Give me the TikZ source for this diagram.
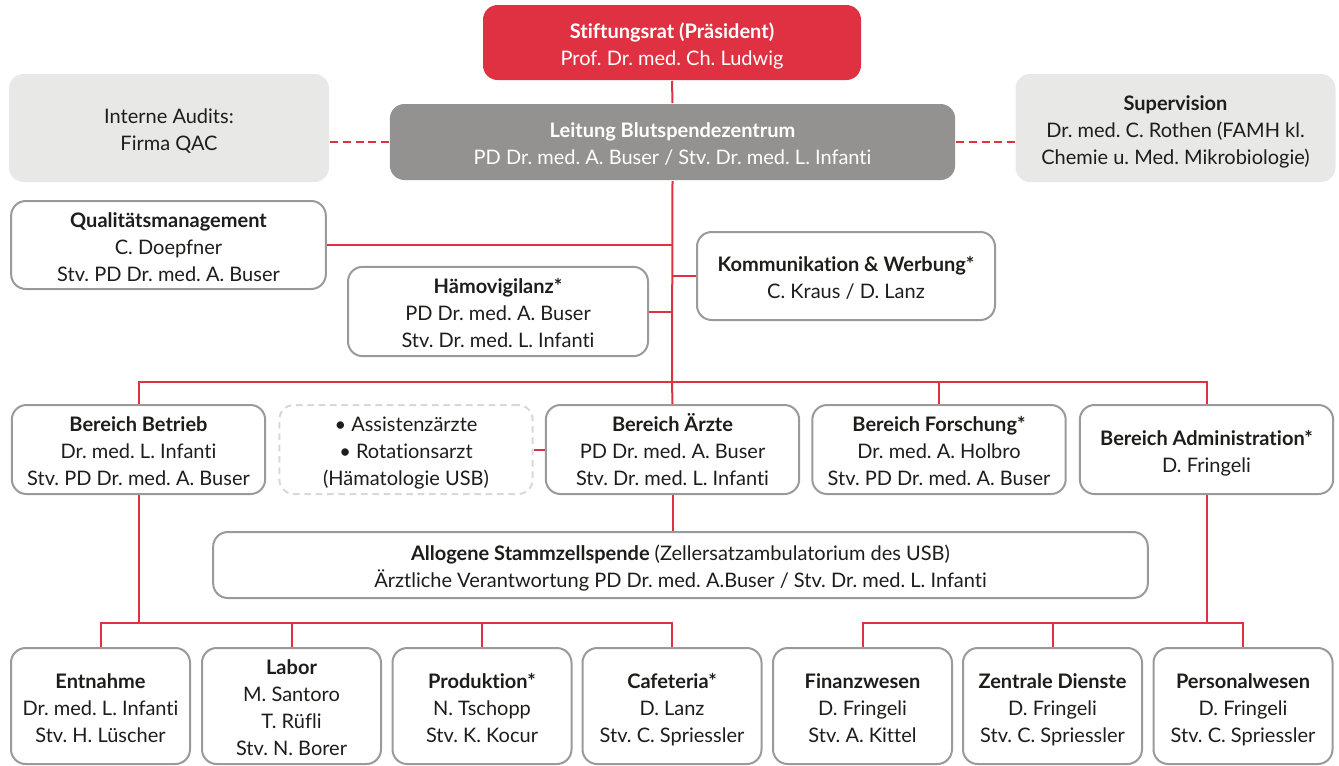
\documentclass[tikz,border=0pt]{standalone}
\usepackage{fontspec}
\setmainfont{Lato}[Ligatures=NoCommon]
\frenchspacing
\definecolor{usbred}{HTML}{E03142}
\definecolor{headgrey}{HTML}{939290}
\definecolor{palegrey}{HTML}{E8E8E6}
\definecolor{framegrey}{HTML}{9A9A9A}
\definecolor{inkblack}{HTML}{1D1D1B}
\newcommand\rowstrut{\rule{0pt}{18pt}}
\tikzset{
  orgbox/.style={draw=framegrey, line width=1.5pt, rounded corners=11pt, fill=white,
    align=center, text=inkblack, inner sep=1pt,
    font=\fontsize{15}{20.25}\selectfont,
    execute at end node={\rule[-4pt]{0pt}{0pt}}},
  headbox/.style={orgbox, draw=none, text=white},
  sidebox/.style={orgbox, draw=none, fill=palegrey, minimum width=240pt, minimum height=81pt},
  rowbox/.style={orgbox, minimum width=190pt, minimum height=66.75pt},
  unitbox/.style={orgbox, minimum width=134.25pt, minimum height=87pt},
  link/.style={draw=usbred, line width=1.5pt},
  dashlink/.style={link, dash pattern=on 6pt off 3.5pt},
}
\begin{document}
\begin{tikzpicture}[x=0.75pt, y=-0.75pt]
  \useasboundingbox (0,0) rectangle (1339,765);
  % top
  \node[headbox, fill=usbred, minimum width=283.5pt, minimum height=56.25pt] (rat) at (672,42.5)
    {\rowstrut\textbf{Stiftungsrat (Präsident)}\\Prof. Dr. med. Ch. Ludwig};
  \node[headbox, fill=headgrey, minimum width=424pt, minimum height=57pt] (leitung) at (672.5,142)
    {\rowstrut\textbf{Leitung Blutspendezentrum}\\PD Dr. med. A. Buser / Stv. Dr. med. L. Infanti};
  \node[sidebox] (audit) at (169,128) {\rowstrut Interne Audits:\\Firma QAC};
  \node[sidebox] (superv) at (1175.5,128)
    {\rowstrut\textbf{Supervision}\\Dr. med. C. Rothen (FAMH kl.\\Chemie u. Med. Mikrobiologie)};
  % staff
  \node[orgbox, minimum width=236pt, minimum height=66pt] (qm) at (168.5,245)
    {\rowstrut\textbf{Qualitätsmanagement}\\C. Doepfner\\Stv. PD Dr. med. A. Buser};
  \node[orgbox, minimum width=225pt, minimum height=67pt] (haemo) at (498,311.5)
    {\rowstrut\textbf{Hämovigilanz*}\\PD Dr. med. A. Buser\\Stv. Dr. med. L. Infanti};
  \node[orgbox, minimum width=223.5pt, minimum height=66pt] (komm) at (846,276)
    {\rowstrut\textbf{Kommunikation \& Werbung*}\\C. Kraus / D. Lanz};
  % bereiche
  \node[rowbox] (betrieb) at (138.5,449.5)
    {\rowstrut\textbf{Bereich Betrieb}\\Dr. med. L. Infanti\\Stv. PD Dr. med. A. Buser};
  \node[rowbox, draw=palegrey!80!framegrey, dash pattern=on 5pt off 3.5pt] (assist) at (406,449.5)
    {\rowstrut• Assistenzärzte\\• Rotationsarzt\\(Hämatologie USB)};
  \node[rowbox] (aerzte) at (672.5,449.5)
    {\rowstrut\textbf{Bereich Ärzte}\\PD Dr. med. A. Buser\\Stv. Dr. med. L. Infanti};
  \node[rowbox] (forsch) at (939,449.5)
    {\rowstrut\textbf{Bereich Forschung*}\\Dr. med. A. Holbro\\Stv. PD Dr. med. A. Buser};
  \node[rowbox] (admin) at (1206.5,449.5)
    {\rowstrut\textbf{Bereich Administration*}\\D. Fringeli};
  \node[orgbox, minimum width=701pt, minimum height=49.5pt] (allo) at (680.5,565)
    {\rowstrut\textbf{Allogene Stammzellspende} (Zellersatzambulatorium des USB)\\Ärztliche Verantwortung PD Dr. med. A.Buser / Stv. Dr. med. L. Infanti};
  % units
  \node[unitbox] (entn) at (100.5,706) {\rowstrut\textbf{Entnahme}\\Dr. med. L. Infanti\\Stv. H. Lüscher};
  \node[unitbox] (labor) at (291.5,706) {\rowstrut\textbf{Labor}\\M. Santoro\\T. Rüfli\\Stv. N. Borer};
  \node[unitbox] (prod) at (482,706) {\rowstrut\textbf{Produktion*}\\N. Tschopp\\Stv. K. Kocur};
  \node[unitbox] (cafe) at (672,706) {\rowstrut\textbf{Cafeteria*}\\D. Lanz\\Stv. C. Spriessler};
  \node[unitbox] (fin) at (862.5,706) {\rowstrut\textbf{Finanzwesen}\\D. Fringeli\\Stv. A. Kittel};
  \node[unitbox] (zentral) at (1052.5,706) {\rowstrut\textbf{Zentrale Dienste}\\D. Fringeli\\Stv. C. Spriessler};
  \node[unitbox] (personal) at (1243,706) {\rowstrut\textbf{Personalwesen}\\D. Fringeli\\Stv. C. Spriessler};
  % lines
  \coordinate (bar) at (672,382);
  \coordinate (lowL) at (136,623);
  \coordinate (lowR) at (1208,623);
  \draw[link] (rat.south) -- (leitung.north);
  \draw[link] (leitung.south) -- (bar);
  \draw[link] (betrieb.north) |- (bar) -| (admin.north);
  \draw[link] (bar) -- (aerzte.north);
  \draw[link] (forsch.north) -- (forsch.north |- bar);
  \draw[link] (qm.east) -- (qm.east -| bar);
  \draw[link] (haemo.east) -- (haemo.east -| bar);
  \draw[link] (komm.west) -- (komm.west -| bar);
  \draw[link] (assist.east) -- (aerzte.west);
  \draw[link] (aerzte.south) -- (aerzte.south |- allo.north);
  \draw[dashlink] (leitung.west) -- (leitung.west -| audit.east);
  \draw[dashlink] (leitung.east) -- (leitung.east -| superv.west);
  \draw[link] (betrieb.south) -- (betrieb.south |- lowL);
  \draw[link] (entn.north) |- (lowL) -| (cafe.north);
  \foreach \u in {labor,prod}
    \draw[link] (\u.north) -- (\u.north |- lowL);
  \draw[link] (admin.south) -- (admin.south |- lowR);
  \draw[link] (fin.north) |- (lowR) -| (personal.north);
  \draw[link] (zentral.north) -- (zentral.north |- lowR);
\end{tikzpicture}
\end{document}
